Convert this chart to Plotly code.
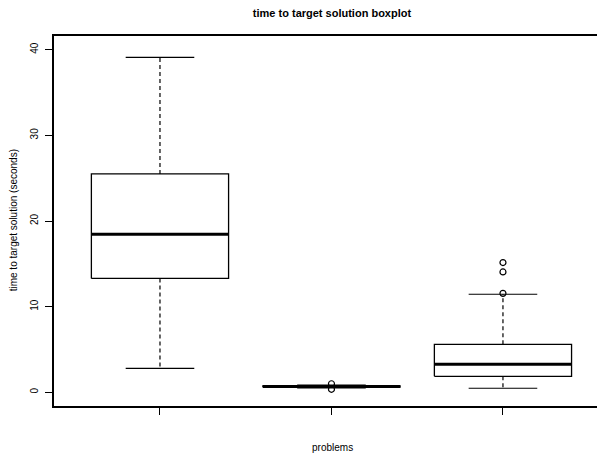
import plotly.graph_objects as go

# ---- data ----
positions = [1, 2, 3]
lower_whisker = [2.8, 0.52, 0.47]
q1 = [13.3, 0.60, 1.87]
median = [18.45, 0.67, 3.27]
q3 = [25.5, 0.74, 5.6]
upper_whisker = [39.1, 0.85, 11.45]
outliers = [[], [0.35, 1.0], [11.55, 14.05, 15.15]]
y_ticks = [0, 10, 20, 30, 40]

BOX_HALF = 0.4
CAP_HALF = 0.2
FONT = "Liberation Sans, Arial, Helvetica, sans-serif"

# the page body adds an 8px offset, so the figure is 8px smaller
OFF = 8
W, H = 605 - OFF, 458 - OFF
L, T, B = 54 - OFF, 36 - OFF, 52
PW = W - L
PH = H - T - B

rect_x, rect_y = [], []
med_x, med_y = [], []
wh_x, wh_y = [], []
cap_x, cap_y = [], []
out_x, out_y = [], []
for p, lw, a, m, b, uw, outs in zip(positions, lower_whisker, q1, median, q3, upper_whisker, outliers):
    rect_x += [p - BOX_HALF, p + BOX_HALF, p + BOX_HALF, p - BOX_HALF, p - BOX_HALF, None]
    rect_y += [a, a, b, b, a, None]
    med_x += [p - BOX_HALF, p + BOX_HALF, None]
    med_y += [m, m, None]
    wh_x += [p, p, None, p, p, None]
    wh_y += [b, uw, None, a, lw, None]
    cap_x += [p - CAP_HALF, p + CAP_HALF, None, p - CAP_HALF, p + CAP_HALF, None]
    cap_y += [uw, uw, None, lw, lw, None]
    out_x += [p] * len(outs)
    out_y += outs

fig = go.Figure()
fig.add_trace(go.Scatter(x=wh_x, y=wh_y, mode="lines",
                         line=dict(color="black", width=1.2, dash="4px,3px"),
                         hoverinfo="skip"))
fig.add_trace(go.Scatter(x=cap_x, y=cap_y, mode="lines",
                         line=dict(color="black", width=1.2), hoverinfo="skip"))
fig.add_trace(go.Scatter(x=rect_x, y=rect_y, mode="lines",
                         line=dict(color="black", width=1.3), hoverinfo="skip"))
fig.add_trace(go.Scatter(x=med_x, y=med_y, mode="lines",
                         line=dict(color="black", width=3), hoverinfo="skip"))
fig.add_trace(go.Scatter(x=out_x, y=out_y, mode="markers",
                         marker=dict(symbol="circle-open", size=6, color="black",
                                     line=dict(width=1.2, color="black"))))

fig.update_layout(
    width=W, height=H,
    margin=dict(l=L, r=0, t=T, b=B),
    paper_bgcolor="white", plot_bgcolor="white",
    showlegend=False,
    font=dict(family=FONT, size=10, color="black"),
    title=dict(text="<b>time to target solution boxplot</b>",
               x=(332 - 54) / PW, xref="paper", xanchor="center",
               y=1 - (13 - OFF) / H, yanchor="middle",
               font=dict(family=FONT, size=11, color="black")),
    xaxis=dict(range=[0.382, 3.595], tickvals=positions, ticktext=["", "", ""],
               ticks="outside", ticklen=7, tickwidth=1, tickcolor="black",
               showgrid=False, zeroline=False, showline=True, linecolor="black",
               linewidth=1.5, mirror=True),
    yaxis=dict(range=[-1.6, 41.6], tickvals=y_ticks,
               ticks="outside", ticklen=7, tickwidth=1, tickcolor="black",
               tickangle=-90, tickfont=dict(size=10, family=FONT),
               ticklabelstandoff=3,
               showgrid=False, zeroline=False, showline=True, linecolor="black",
               linewidth=1.5, mirror=False),
    annotations=[
        dict(text="problems", xref="paper", yref="paper",
             x=(332 - 54) / PW, y=-(447 - 405.7) / PH,
             xanchor="center", yanchor="middle", showarrow=False,
             font=dict(family=FONT, size=10, color="black")),
        dict(text="time to target solution (seconds)", xref="paper", yref="paper",
             x=-(54 - 13) / PW, y=(405.7 - 220) / PH,
             xanchor="center", yanchor="middle", textangle=-90, showarrow=False,
             font=dict(family=FONT, size=10, color="black")),
    ],
)

fig.write_html("out.html")
